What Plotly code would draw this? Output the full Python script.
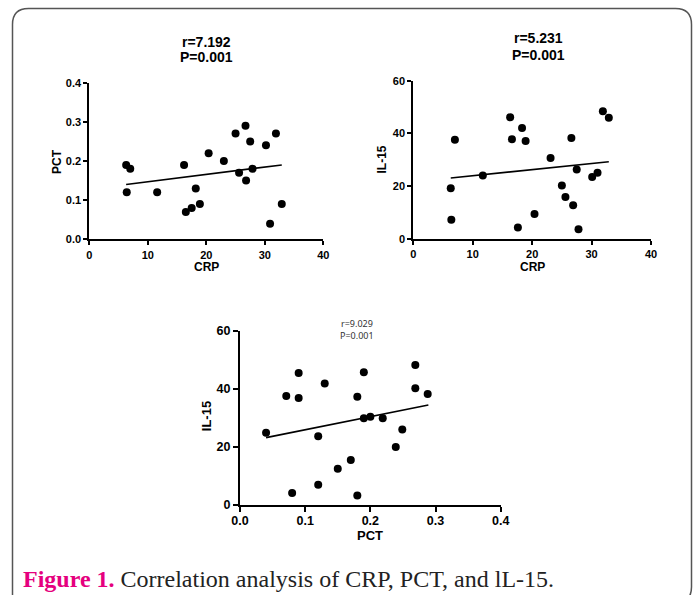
import plotly.graph_objects as go

# ---- data ----
crp_a = [6.3, 7.0, 6.4, 11.6, 16.2, 16.5, 17.5, 18.2, 18.9, 20.4, 23.0,
         25.0, 25.6, 26.7, 26.8, 27.5, 27.9, 30.2, 30.9, 31.9, 32.9]
pct_a = [0.19, 0.18, 0.12, 0.12, 0.19, 0.07, 0.08, 0.13, 0.09, 0.22, 0.20,
         0.27, 0.17, 0.29, 0.15, 0.25, 0.18, 0.24, 0.04, 0.27, 0.09]
fit_a_x = [6.3, 32.9]
fit_a_y = [0.14, 0.19]

crp_b = [6.3, 6.4, 7.0, 11.7, 16.3, 16.6, 17.6, 18.3, 18.9, 20.4, 23.1,
         25.0, 25.6, 26.6, 26.9, 27.5, 27.8, 30.1, 31.0, 31.9, 32.9]
il15_b = [19.2, 7.3, 37.6, 24.1, 46.1, 37.8, 4.4, 42.1, 37.1, 9.5, 30.7,
          20.3, 15.9, 38.3, 12.8, 26.3, 3.7, 23.5, 25.1, 48.4, 46.0]
fit_b_x = [6.3, 32.9]
fit_b_y = [23.1, 29.3]

pct_c = [0.040, 0.071, 0.080, 0.090, 0.090, 0.120, 0.120, 0.130, 0.150, 0.170, 0.180,
         0.180, 0.190, 0.190, 0.200, 0.219, 0.239, 0.249, 0.269, 0.269, 0.288]
il15_c = [24.9, 37.5, 4.1, 45.4, 36.8, 23.7, 7.0, 41.8, 12.5, 15.5, 37.3,
          3.3, 45.7, 29.9, 30.4, 29.9, 20.0, 26.0, 48.2, 40.2, 38.2]
fit_c_x = [0.040, 0.289]
fit_c_y = [23.2, 34.4]

titles = [("r=7.192", "P=0.001"), ("r=5.231", "P=0.001"), ("r=9.029", "P=0.001")]
caption_head = "Figure 1."
caption_body = " Correlation analysis of CRP, PCT, and lL-15."

W, H = 697, 595
def px(x):
    return x / W
def py(y):
    return 1 - y / H

fig = go.Figure()

BOLD = "Liberation Sans"
panels = [
    dict(x=crp_a, y=pct_a, fx=fit_a_x, fy=fit_a_y, xa="x", ya="y"),
    dict(x=crp_b, y=il15_b, fx=fit_b_x, fy=fit_b_y, xa="x2", ya="y2"),
    dict(x=pct_c, y=il15_c, fx=fit_c_x, fy=fit_c_y, xa="x3", ya="y3"),
]
for p in panels:
    fig.add_trace(go.Scatter(x=p["fx"], y=p["fy"], mode="lines",
                             line=dict(color="black", width=1.6),
                             xaxis=p["xa"], yaxis=p["ya"], showlegend=False,
                             hoverinfo="skip"))
    fig.add_trace(go.Scatter(x=p["x"], y=p["y"], mode="markers",
                             marker=dict(color="black", size=8),
                             xaxis=p["xa"], yaxis=p["ya"], showlegend=False,
                             cliponaxis=False))

def axis(domain, rng, dtick, fmt, anchor, size, ticklen, standoff=0):
    return dict(domain=domain, range=rng, dtick=dtick, tick0=0, tickformat=fmt,
                anchor=anchor, showgrid=False, zeroline=False, showline=True,
                automargin=False, ticklabelstandoff=standoff,
                linecolor="black", linewidth=2, ticks="outside", ticklen=ticklen,
                tickwidth=1.8, tickcolor="black",
                tickfont=dict(family=BOLD, size=size, color="black", weight="bold"))

fig.update_layout(
    template="none",
    width=W, height=H, margin=dict(l=0, r=0, t=0, b=0, autoexpand=False),
    paper_bgcolor="white", plot_bgcolor="rgba(0,0,0,0)",
    xaxis=axis([px(89.3), px(323.3)], [0, 40], 10, "d", "y", 11, 4),
    yaxis=axis([py(239.3), py(82.7)], [0, 0.4], 0.1, ".1f", "x", 11, 4),
    xaxis2=axis([px(413.3), px(651)], [0, 40], 10, "d", "y2", 11, 4),
    yaxis2=axis([py(239), py(80.7)], [0, 60], 20, "d", "x2", 11, 4),
    xaxis3=axis([px(240), px(500.7)], [0, 0.4], 0.1, ".1f", "y3", 12.5, 5, -2),
    yaxis3=axis([py(505), py(330.7)], [0, 60], 20, "d", "x3", 12.5, 5),
)

ann = []
def text(t, x, y, size, bold=True, angle=0, color="black", family=BOLD, xanchor="center"):
    ann.append(dict(text=t, x=px(x), y=py(y), xref="paper", yref="paper",
                    showarrow=False, textangle=angle, xanchor=xanchor, yanchor="middle",
                    font=dict(family=family, size=size, color=color,
                              weight="bold" if bold else "normal")))

# panel titles
text(titles[0][0], 206.7, 41.7, 14)
text(titles[0][1], 206.7, 57.0, 14)
text(titles[1][0], 538.3, 38.5, 14)
text(titles[1][1], 538.3, 54.5, 14)
text(titles[2][0], 357.0, 323.5, 9, bold=False, color="#333333", family="Noto Sans")
text(titles[2][1], 357.0, 335.0, 9, bold=False, color="#333333", family="Noto Sans")

# axis titles
text("PCT", 57, 161, 12, angle=-90)
text("CRP", 206.3, 267, 12)
text("IL-15", 381.5, 160, 12, angle=-90)
text("CRP", 532, 267, 12)
text("IL-15", 206.5, 416.7, 13, angle=-90)
text("PCT", 370, 535, 13)

# caption
ann.append(dict(text="<b><span style='color:#e5007e'>" + caption_head + "</span></b>"
                + "<span style='color:#222222'>" + caption_body + "</span>",
                x=px(21), y=py(579), xref="paper", yref="paper", showarrow=False,
                xanchor="left", yanchor="middle",
                font=dict(family="Liberation Serif", size=24, color="#222222")))
fig.update_layout(annotations=ann)

# rounded frame
x0, x1, y0, y1, r = px(12.5), px(691.5), py(8.5), py(603), 16
rx, ry = r / W, r / H
path = (f"M {x0} {y1} L {x0} {y0 - ry} Q {x0} {y0} {x0 + rx} {y0} "
        f"L {x1 - rx} {y0} Q {x1} {y0} {x1} {y0 - ry} L {x1} {y1 + ry} "
        f"Q {x1} {y1} {x1 - rx} {y1}")
fig.add_shape(type="path", path=path, xref="paper", yref="paper",
              line=dict(color="#555555", width=1.5), layer="below")

fig.write_html("out.html", config={"displayModeBar": False},
               post_script="document.body.style.margin='0';document.body.style.overflow='hidden';")
